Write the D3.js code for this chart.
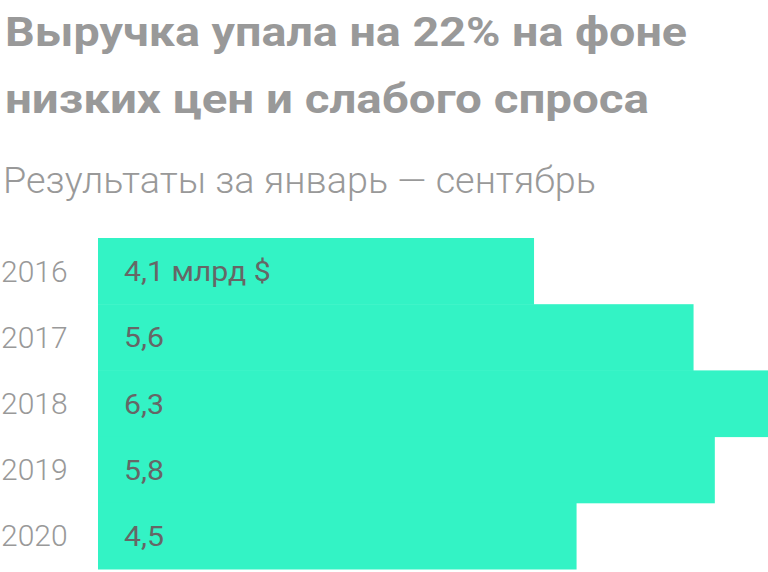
<!DOCTYPE html>
<html>
<head>
<meta charset="utf-8">
<script src="https://cdn.jsdelivr.net/npm/d3@7"></script>
<style>
  html, body { margin: 0; padding: 0; background: #fff; }
  svg { display: block; }
  text { font-family: Roboto, "Noto Sans", sans-serif; }
</style>
</head>
<body>
<script>
const titleLines = ["Выручка упала на 22% на фоне", "низких цен и слабого спроса"];
const subtitle = "Результаты за январь — сентябрь";
const years = ["2016", "2017", "2018", "2019", "2020"];
const revenue = [4.1, 5.6, 6.3, 5.8, 4.5];
const valueLabels = ["4,1 млрд $", "5,6", "6,3", "5,8", "4,5"];

const W = 768, H = 572;
const svg = d3.select("body").append("svg").attr("width", W).attr("height", H);

// stretch a text horizontally to a target width (reference font is wider than Roboto)
function fitWidth(sel, target) {
  sel.each(function () {
    this.setAttribute("textLength", target);
    this.setAttribute("lengthAdjust", "spacingAndGlyphs");
  });
}
function stretch(sel, factor) {
  sel.each(function () {
    const w = this.getComputedTextLength();
    this.setAttribute("textLength", w * factor);
    this.setAttribute("lengthAdjust", "spacingAndGlyphs");
  });
}

const titleTargets = [682, 644];
svg.selectAll("text.title").data(titleLines).join("text")
  .attr("class", "title")
  .attr("x", 5).attr("y", (d, i) => 46 + i * 67)
  .attr("fill", "#999999")
  .attr("font-size", 40).attr("font-weight", 700)
  .text(d => d)
  .each(function (d, i) { fitWidth(d3.select(this), titleTargets[i]); });

svg.append("text")
  .attr("x", 3).attr("y", 193)
  .attr("fill", "#999999")
  .attr("font-size", 36).attr("font-weight", 300)
  .text(subtitle)
  .call(fitWidth, 593);

const x = d3.scaleLinear().domain([0, d3.max(revenue)]).range([98, 768]);
const y = d3.scaleBand().domain(years).range([238, 569]).padding(0);

svg.selectAll("rect.bar").data(years).join("rect")
  .attr("class", "bar")
  .attr("x", x(0)).attr("y", d => y(d))
  .attr("width", (d, i) => x(revenue[i]) - x(0))
  .attr("height", y.bandwidth() + 0.5)
  .attr("fill", "#33f3c5");

const yAxis = d3.axisLeft(y).tickSize(0).tickPadding(0);
const gy = svg.append("g").attr("transform", "translate(1,0)").call(yAxis);
gy.select(".domain").remove();
gy.selectAll("text")
  .attr("text-anchor", "start")
  .attr("x", 0).attr("dy", null)
  .attr("dominant-baseline", "central")
  .attr("fill", "#999999")
  .attr("font-size", 30)
  .attr("font-weight", 300)
  .attr("font-family", "Roboto, 'Noto Sans', sans-serif");

const vals = svg.selectAll("text.val").data(years).join("text")
  .attr("class", "val")
  .attr("x", x(0) + 26)
  .attr("y", d => y(d) + y.bandwidth() / 2 + 0.5)
  .attr("dominant-baseline", "central")
  .attr("fill", "#666666")
  .attr("font-size", 28)
  .text((d, i) => valueLabels[i]);
stretch(vals, 1.08);
</script>
</body>
</html>
